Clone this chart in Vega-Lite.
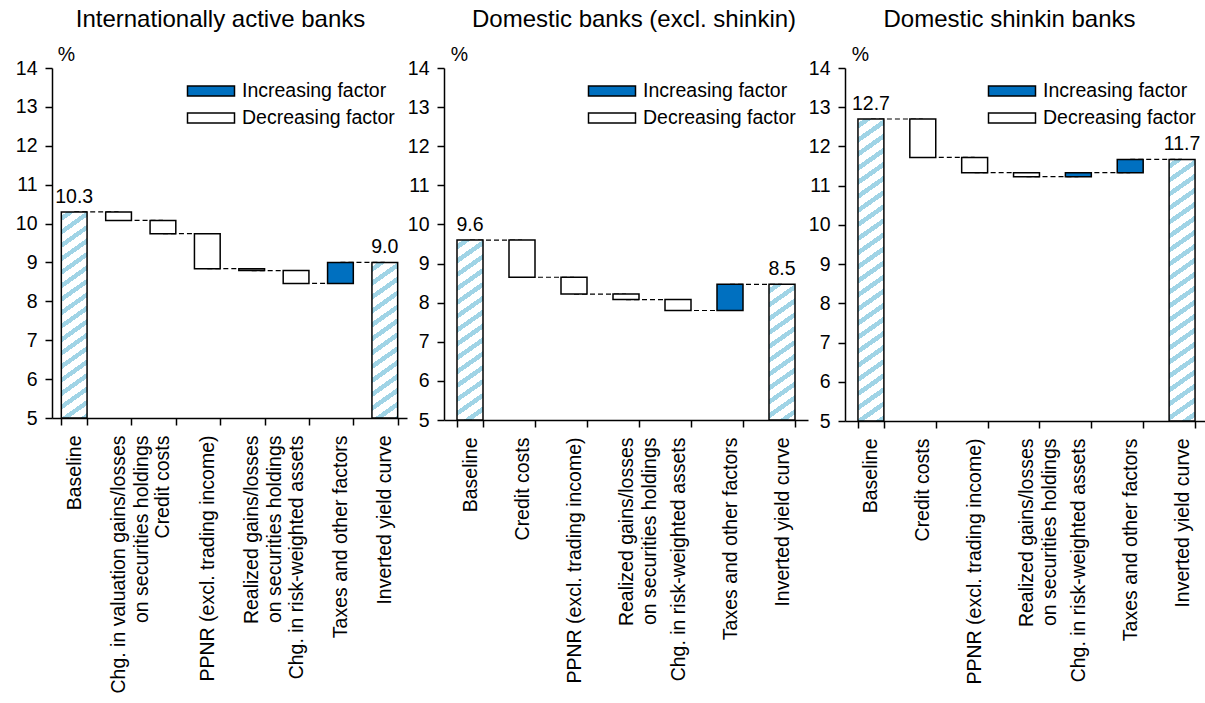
{
"$schema": "https://vega.github.io/schema/vega-lite/v6.json",
"padding": {"left": 15, "top": 8, "right": 0, "bottom": 0},
"background": "white",
"datasets": {
"p1": [
{"cat":"Baseline","start":5,"end":10.3,"type":"Total","next":"Chg. in valuation gains/losses on securities holdings"},
{"cat":"Chg. in valuation gains/losses on securities holdings","start":10.3,"end":10.08,"type":"Decreasing factor","next":"Credit costs"},
{"cat":"Credit costs","start":10.08,"end":9.74,"type":"Decreasing factor","next":"PPNR (excl. trading income)"},
{"cat":"PPNR (excl. trading income)","start":9.74,"end":8.84,"type":"Decreasing factor","next":"Realized gains/losses on securities holdings"},
{"cat":"Realized gains/losses on securities holdings","start":8.84,"end":8.79,"type":"Decreasing factor","next":"Chg. in risk-weighted assets"},
{"cat":"Chg. in risk-weighted assets","start":8.79,"end":8.46,"type":"Decreasing factor","next":"Taxes and other factors"},
{"cat":"Taxes and other factors","start":8.46,"end":9.0,"type":"Increasing factor","next":"Inverted yield curve"},
{"cat":"Inverted yield curve","start":5,"end":9.0,"type":"Total"}
],
"p2": [
{"cat":"Baseline","start":5,"end":9.6,"type":"Total","next":"Credit costs"},
{"cat":"Credit costs","start":9.6,"end":8.65,"type":"Decreasing factor","next":"PPNR (excl. trading income)"},
{"cat":"PPNR (excl. trading income)","start":8.65,"end":8.22,"type":"Decreasing factor","next":"Realized gains/losses on securities holdings"},
{"cat":"Realized gains/losses on securities holdings","start":8.22,"end":8.08,"type":"Decreasing factor","next":"Chg. in risk-weighted assets"},
{"cat":"Chg. in risk-weighted assets","start":8.08,"end":7.8,"type":"Decreasing factor","next":"Taxes and other factors"},
{"cat":"Taxes and other factors","start":7.8,"end":8.47,"type":"Increasing factor","next":"Inverted yield curve"},
{"cat":"Inverted yield curve","start":5,"end":8.47,"type":"Total"}
],
"p3": [
{"cat":"Baseline","start":5,"end":12.7,"type":"Total","next":"Credit costs"},
{"cat":"Credit costs","start":12.7,"end":11.72,"type":"Decreasing factor","next":"PPNR (excl. trading income)"},
{"cat":"PPNR (excl. trading income)","start":11.72,"end":11.33,"type":"Decreasing factor","next":"Realized gains/losses on securities holdings"},
{"cat":"Realized gains/losses on securities holdings","start":11.33,"end":11.23,"type":"Decreasing factor","next":"Chg. in risk-weighted assets"},
{"cat":"Chg. in risk-weighted assets","start":11.23,"end":11.33,"type":"Increasing factor","next":"Taxes and other factors"},
{"cat":"Taxes and other factors","start":11.33,"end":11.67,"type":"Increasing factor","next":"Inverted yield curve"},
{"cat":"Inverted yield curve","start":5,"end":11.67,"type":"Total"}
]
},
"spacing": 0,
"hconcat": [
{
"width": 355, "height": 350,
"title": {"text": "Internationally active banks", "dx": -9, "offset": 12},
"data": {"name": "p1"},
"encoding": {
"x": {"field": "cat", "type": "nominal", "sort": null,
 "scale": {"domain": ["Baseline","Chg. in valuation gains/losses on securities holdings","Credit costs","PPNR (excl. trading income)","Realized gains/losses on securities holdings","Chg. in risk-weighted assets","Taxes and other factors","Inverted yield curve"], "paddingInner": 0.42, "paddingOuter": 0.21},
 "axis": {"title": null, "tickBand": "extent", "labelAngle": -90, "labelAlign": "right", "labelBaseline": "middle", "labelPadding": 10, "labelLimit": 400, "labelLineHeight": 23,
  "labelExpr": "datum.value == 'Chg. in valuation gains/losses on securities holdings' ? ['Chg. in valuation gains/losses', 'on securities holdings'] : datum.value == 'Realized gains/losses on securities holdings' ? ['Realized gains/losses', 'on securities holdings'] : datum.label"}},
"y": {"field": "end", "type": "quantitative", "scale": {"domain": [5, 14], "nice": false, "zero": false},
 "axis": {"title": "%", "values": [5,6,7,8,9,10,11,12,13,14], "labelPadding": 8, "titleAngle": 0, "titleX": 14, "titleY": -8, "titleAlign": "center", "titleBaseline": "alphabetic"}}
},
"layer": [
{"transform": [{"filter": "isValid(datum.next)"}], "mark": {"type": "rule", "color": "#000", "strokeWidth": 1.2, "strokeDash": [5, 3]}, "encoding": {"x2": {"field": "next"}}},
{"transform": [{"filter": "datum.cat == 'Baseline'"}], "mark": {"type": "bar", "stroke": "#000", "strokeWidth": 1.5,
 "fill": {"gradient": "linear", "x1": 0, "y1": 0, "x2": 0.0958, "y2": 1.0802, "stops": [
{"offset":0,"color":"#ffffff"},
{"offset":0.018,"color":"#ffffff"},{"offset":0.018,"color":"#a0d4e6"},{"offset":0.042,"color":"#a0d4e6"},{"offset":0.042,"color":"#ffffff"},
{"offset":0.078,"color":"#ffffff"},{"offset":0.078,"color":"#a0d4e6"},{"offset":0.102,"color":"#a0d4e6"},{"offset":0.102,"color":"#ffffff"},
{"offset":0.138,"color":"#ffffff"},{"offset":0.138,"color":"#a0d4e6"},{"offset":0.162,"color":"#a0d4e6"},{"offset":0.162,"color":"#ffffff"},
{"offset":0.198,"color":"#ffffff"},{"offset":0.198,"color":"#a0d4e6"},{"offset":0.222,"color":"#a0d4e6"},{"offset":0.222,"color":"#ffffff"},
{"offset":0.258,"color":"#ffffff"},{"offset":0.258,"color":"#a0d4e6"},{"offset":0.282,"color":"#a0d4e6"},{"offset":0.282,"color":"#ffffff"},
{"offset":0.318,"color":"#ffffff"},{"offset":0.318,"color":"#a0d4e6"},{"offset":0.342,"color":"#a0d4e6"},{"offset":0.342,"color":"#ffffff"},
{"offset":0.378,"color":"#ffffff"},{"offset":0.378,"color":"#a0d4e6"},{"offset":0.402,"color":"#a0d4e6"},{"offset":0.402,"color":"#ffffff"},
{"offset":0.438,"color":"#ffffff"},{"offset":0.438,"color":"#a0d4e6"},{"offset":0.462,"color":"#a0d4e6"},{"offset":0.462,"color":"#ffffff"},
{"offset":0.498,"color":"#ffffff"},{"offset":0.498,"color":"#a0d4e6"},{"offset":0.522,"color":"#a0d4e6"},{"offset":0.522,"color":"#ffffff"},
{"offset":0.558,"color":"#ffffff"},{"offset":0.558,"color":"#a0d4e6"},{"offset":0.582,"color":"#a0d4e6"},{"offset":0.582,"color":"#ffffff"},
{"offset":0.618,"color":"#ffffff"},{"offset":0.618,"color":"#a0d4e6"},{"offset":0.642,"color":"#a0d4e6"},{"offset":0.642,"color":"#ffffff"},
{"offset":0.678,"color":"#ffffff"},{"offset":0.678,"color":"#a0d4e6"},{"offset":0.702,"color":"#a0d4e6"},{"offset":0.702,"color":"#ffffff"},
{"offset":0.738,"color":"#ffffff"},{"offset":0.738,"color":"#a0d4e6"},{"offset":0.762,"color":"#a0d4e6"},{"offset":0.762,"color":"#ffffff"},
{"offset":0.798,"color":"#ffffff"},{"offset":0.798,"color":"#a0d4e6"},{"offset":0.822,"color":"#a0d4e6"},{"offset":0.822,"color":"#ffffff"},
{"offset":0.858,"color":"#ffffff"},{"offset":0.858,"color":"#a0d4e6"},{"offset":0.882,"color":"#a0d4e6"},{"offset":0.882,"color":"#ffffff"},
{"offset":0.918,"color":"#ffffff"},{"offset":0.918,"color":"#a0d4e6"},{"offset":0.942,"color":"#a0d4e6"},{"offset":0.942,"color":"#ffffff"},
{"offset":0.978,"color":"#ffffff"},{"offset":0.978,"color":"#a0d4e6"},{"offset":1,"color":"#a0d4e6"}
]}}, "encoding": {"y2": {"field": "start"}}},
{"transform": [{"filter": "datum.cat == 'Inverted yield curve'"}], "mark": {"type": "bar", "stroke": "#000", "strokeWidth": 1.5,
 "fill": {"gradient": "linear", "x1": 0, "y1": 0, "x2": 0.1294, "y2": 1.1024, "stops": [
{"offset":0,"color":"#ffffff"},
{"offset":0.024,"color":"#ffffff"},{"offset":0.024,"color":"#a0d4e6"},{"offset":0.056,"color":"#a0d4e6"},{"offset":0.056,"color":"#ffffff"},
{"offset":0.104,"color":"#ffffff"},{"offset":0.104,"color":"#a0d4e6"},{"offset":0.136,"color":"#a0d4e6"},{"offset":0.136,"color":"#ffffff"},
{"offset":0.184,"color":"#ffffff"},{"offset":0.184,"color":"#a0d4e6"},{"offset":0.216,"color":"#a0d4e6"},{"offset":0.216,"color":"#ffffff"},
{"offset":0.264,"color":"#ffffff"},{"offset":0.264,"color":"#a0d4e6"},{"offset":0.296,"color":"#a0d4e6"},{"offset":0.296,"color":"#ffffff"},
{"offset":0.344,"color":"#ffffff"},{"offset":0.344,"color":"#a0d4e6"},{"offset":0.376,"color":"#a0d4e6"},{"offset":0.376,"color":"#ffffff"},
{"offset":0.424,"color":"#ffffff"},{"offset":0.424,"color":"#a0d4e6"},{"offset":0.456,"color":"#a0d4e6"},{"offset":0.456,"color":"#ffffff"},
{"offset":0.504,"color":"#ffffff"},{"offset":0.504,"color":"#a0d4e6"},{"offset":0.536,"color":"#a0d4e6"},{"offset":0.536,"color":"#ffffff"},
{"offset":0.584,"color":"#ffffff"},{"offset":0.584,"color":"#a0d4e6"},{"offset":0.616,"color":"#a0d4e6"},{"offset":0.616,"color":"#ffffff"},
{"offset":0.664,"color":"#ffffff"},{"offset":0.664,"color":"#a0d4e6"},{"offset":0.696,"color":"#a0d4e6"},{"offset":0.696,"color":"#ffffff"},
{"offset":0.744,"color":"#ffffff"},{"offset":0.744,"color":"#a0d4e6"},{"offset":0.776,"color":"#a0d4e6"},{"offset":0.776,"color":"#ffffff"},
{"offset":0.824,"color":"#ffffff"},{"offset":0.824,"color":"#a0d4e6"},{"offset":0.856,"color":"#a0d4e6"},{"offset":0.856,"color":"#ffffff"},
{"offset":0.904,"color":"#ffffff"},{"offset":0.904,"color":"#a0d4e6"},{"offset":0.936,"color":"#a0d4e6"},{"offset":0.936,"color":"#ffffff"},
{"offset":0.984,"color":"#ffffff"},{"offset":0.984,"color":"#a0d4e6"},{"offset":1,"color":"#a0d4e6"}
]}}, "encoding": {"y2": {"field": "start"}}},
{"transform": [{"filter": "datum.type != 'Total'"}], "mark": {"type": "bar", "stroke": "#000", "strokeWidth": 1.5}, "encoding": {"y2": {"field": "start"},
 "fill": {"field": "type", "type": "nominal", "scale": {"domain": ["Increasing factor", "Decreasing factor"], "range": ["#0070c0", "#ffffff"]}, "legend": {"title": null}}}},
{"transform": [{"filter": "datum.type == 'Total'"}], "mark": {"type": "text", "baseline": "bottom", "dy": -5, "fontSize": 19.5, "color": "#000"}, "encoding": {"text": {"field": "end", "type": "quantitative", "format": ".1f"}}}
]
},
{
"width": 364, "height": 352,
"title": {"text": "Domestic banks (excl. shinkin)", "dx": 8, "offset": 12},
"data": {"name": "p2"},
"encoding": {
"x": {"field": "cat", "type": "nominal", "sort": null,
 "scale": {"domain": ["Baseline","Credit costs","PPNR (excl. trading income)","Realized gains/losses on securities holdings","Chg. in risk-weighted assets","Taxes and other factors","Inverted yield curve"], "paddingInner": 0.5, "paddingOuter": 0.25},
 "axis": {"title": null, "tickBand": "extent", "labelAngle": -90, "labelAlign": "right", "labelBaseline": "middle", "labelPadding": 10, "labelLimit": 400, "labelLineHeight": 23,
  "labelExpr": "datum.value == 'Realized gains/losses on securities holdings' ? ['Realized gains/losses', 'on securities holdings'] : datum.label"}},
"y": {"field": "end", "type": "quantitative", "scale": {"domain": [5, 14], "nice": false, "zero": false},
 "axis": {"title": "%", "values": [5,6,7,8,9,10,11,12,13,14], "labelPadding": 8, "titleAngle": 0, "titleX": 15, "titleY": -8, "titleAlign": "center", "titleBaseline": "alphabetic"}}
},
"layer": [
{"transform": [{"filter": "isValid(datum.next)"}], "mark": {"type": "rule", "color": "#000", "strokeWidth": 1.2, "strokeDash": [5, 3]}, "encoding": {"x2": {"field": "next"}}},
{"transform": [{"filter": "datum.cat == 'Baseline'"}], "mark": {"type": "bar", "stroke": "#000", "strokeWidth": 1.5,
 "fill": {"gradient": "linear", "x1": 0, "y1": 0, "x2": 0.1103, "y2": 1.09, "stops": [
{"offset":0,"color":"#ffffff"},
{"offset":0.021,"color":"#ffffff"},{"offset":0.021,"color":"#a0d4e6"},{"offset":0.049,"color":"#a0d4e6"},{"offset":0.049,"color":"#ffffff"},
{"offset":0.091,"color":"#ffffff"},{"offset":0.091,"color":"#a0d4e6"},{"offset":0.119,"color":"#a0d4e6"},{"offset":0.119,"color":"#ffffff"},
{"offset":0.161,"color":"#ffffff"},{"offset":0.161,"color":"#a0d4e6"},{"offset":0.189,"color":"#a0d4e6"},{"offset":0.189,"color":"#ffffff"},
{"offset":0.231,"color":"#ffffff"},{"offset":0.231,"color":"#a0d4e6"},{"offset":0.259,"color":"#a0d4e6"},{"offset":0.259,"color":"#ffffff"},
{"offset":0.301,"color":"#ffffff"},{"offset":0.301,"color":"#a0d4e6"},{"offset":0.329,"color":"#a0d4e6"},{"offset":0.329,"color":"#ffffff"},
{"offset":0.371,"color":"#ffffff"},{"offset":0.371,"color":"#a0d4e6"},{"offset":0.399,"color":"#a0d4e6"},{"offset":0.399,"color":"#ffffff"},
{"offset":0.441,"color":"#ffffff"},{"offset":0.441,"color":"#a0d4e6"},{"offset":0.469,"color":"#a0d4e6"},{"offset":0.469,"color":"#ffffff"},
{"offset":0.511,"color":"#ffffff"},{"offset":0.511,"color":"#a0d4e6"},{"offset":0.539,"color":"#a0d4e6"},{"offset":0.539,"color":"#ffffff"},
{"offset":0.581,"color":"#ffffff"},{"offset":0.581,"color":"#a0d4e6"},{"offset":0.609,"color":"#a0d4e6"},{"offset":0.609,"color":"#ffffff"},
{"offset":0.651,"color":"#ffffff"},{"offset":0.651,"color":"#a0d4e6"},{"offset":0.679,"color":"#a0d4e6"},{"offset":0.679,"color":"#ffffff"},
{"offset":0.721,"color":"#ffffff"},{"offset":0.721,"color":"#a0d4e6"},{"offset":0.749,"color":"#a0d4e6"},{"offset":0.749,"color":"#ffffff"},
{"offset":0.791,"color":"#ffffff"},{"offset":0.791,"color":"#a0d4e6"},{"offset":0.819,"color":"#a0d4e6"},{"offset":0.819,"color":"#ffffff"},
{"offset":0.861,"color":"#ffffff"},{"offset":0.861,"color":"#a0d4e6"},{"offset":0.889,"color":"#a0d4e6"},{"offset":0.889,"color":"#ffffff"},
{"offset":0.931,"color":"#ffffff"},{"offset":0.931,"color":"#a0d4e6"},{"offset":0.959,"color":"#a0d4e6"},{"offset":0.959,"color":"#ffffff"},
{"offset":1,"color":"#ffffff"}
]}}, "encoding": {"y2": {"field": "start"}}},
{"transform": [{"filter": "datum.cat == 'Inverted yield curve'"}], "mark": {"type": "bar", "stroke": "#000", "strokeWidth": 1.5,
 "fill": {"gradient": "linear", "x1": 0, "y1": 0, "x2": 0.1494, "y2": 1.1141, "stops": [
{"offset":0,"color":"#ffffff"},
{"offset":0.027,"color":"#ffffff"},{"offset":0.027,"color":"#a0d4e6"},{"offset":0.063,"color":"#a0d4e6"},{"offset":0.063,"color":"#ffffff"},
{"offset":0.117,"color":"#ffffff"},{"offset":0.117,"color":"#a0d4e6"},{"offset":0.153,"color":"#a0d4e6"},{"offset":0.153,"color":"#ffffff"},
{"offset":0.207,"color":"#ffffff"},{"offset":0.207,"color":"#a0d4e6"},{"offset":0.243,"color":"#a0d4e6"},{"offset":0.243,"color":"#ffffff"},
{"offset":0.297,"color":"#ffffff"},{"offset":0.297,"color":"#a0d4e6"},{"offset":0.333,"color":"#a0d4e6"},{"offset":0.333,"color":"#ffffff"},
{"offset":0.387,"color":"#ffffff"},{"offset":0.387,"color":"#a0d4e6"},{"offset":0.423,"color":"#a0d4e6"},{"offset":0.423,"color":"#ffffff"},
{"offset":0.477,"color":"#ffffff"},{"offset":0.477,"color":"#a0d4e6"},{"offset":0.513,"color":"#a0d4e6"},{"offset":0.513,"color":"#ffffff"},
{"offset":0.567,"color":"#ffffff"},{"offset":0.567,"color":"#a0d4e6"},{"offset":0.603,"color":"#a0d4e6"},{"offset":0.603,"color":"#ffffff"},
{"offset":0.657,"color":"#ffffff"},{"offset":0.657,"color":"#a0d4e6"},{"offset":0.693,"color":"#a0d4e6"},{"offset":0.693,"color":"#ffffff"},
{"offset":0.747,"color":"#ffffff"},{"offset":0.747,"color":"#a0d4e6"},{"offset":0.783,"color":"#a0d4e6"},{"offset":0.783,"color":"#ffffff"},
{"offset":0.837,"color":"#ffffff"},{"offset":0.837,"color":"#a0d4e6"},{"offset":0.873,"color":"#a0d4e6"},{"offset":0.873,"color":"#ffffff"},
{"offset":0.927,"color":"#ffffff"},{"offset":0.927,"color":"#a0d4e6"},{"offset":0.963,"color":"#a0d4e6"},{"offset":0.963,"color":"#ffffff"},
{"offset":1,"color":"#ffffff"}
]}}, "encoding": {"y2": {"field": "start"}}},
{"transform": [{"filter": "datum.type != 'Total'"}], "mark": {"type": "bar", "stroke": "#000", "strokeWidth": 1.5}, "encoding": {"y2": {"field": "start"},
 "fill": {"field": "type", "type": "nominal", "scale": {"domain": ["Increasing factor", "Decreasing factor"], "range": ["#0070c0", "#ffffff"]}, "legend": {"title": null}}}},
{"transform": [{"filter": "datum.type == 'Total'"}], "mark": {"type": "text", "baseline": "bottom", "dy": -5, "fontSize": 19.5, "color": "#000"}, "encoding": {"text": {"field": "end", "type": "quantitative", "format": ".1f"}}}
]
},
{
"width": 363, "height": 353,
"title": {"text": "Domestic shinkin banks", "dx": -17, "offset": 12},
"data": {"name": "p3"},
"encoding": {
"x": {"field": "cat", "type": "nominal", "sort": null,
 "scale": {"domain": ["Baseline","Credit costs","PPNR (excl. trading income)","Realized gains/losses on securities holdings","Chg. in risk-weighted assets","Taxes and other factors","Inverted yield curve"], "paddingInner": 0.5, "paddingOuter": 0.25},
 "axis": {"title": null, "tickBand": "extent", "labelAngle": -90, "labelAlign": "right", "labelBaseline": "middle", "labelPadding": 10, "labelLimit": 400, "labelLineHeight": 23,
  "labelExpr": "datum.value == 'Realized gains/losses on securities holdings' ? ['Realized gains/losses', 'on securities holdings'] : datum.label"}},
"y": {"field": "end", "type": "quantitative", "scale": {"domain": [5, 14], "nice": false, "zero": false},
 "axis": {"title": "%", "values": [5,6,7,8,9,10,11,12,13,14], "labelPadding": 8, "titleAngle": 0, "titleX": 15, "titleY": -8, "titleAlign": "center", "titleBaseline": "alphabetic"}}
},
"layer": [
{"transform": [{"filter": "isValid(datum.next)"}], "mark": {"type": "rule", "color": "#000", "strokeWidth": 1.2, "strokeDash": [5, 3]}, "encoding": {"x2": {"field": "next"}}},
{"transform": [{"filter": "datum.cat == 'Baseline'"}], "mark": {"type": "bar", "stroke": "#000", "strokeWidth": 1.5,
 "fill": {"gradient": "linear", "x1": 0, "y1": 0, "x2": 0.0637, "y2": 1.0564, "stops": [
{"offset":0,"color":"#ffffff"},
{"offset":0.0132,"color":"#ffffff"},{"offset":0.0132,"color":"#a0d4e6"},{"offset":0.0308,"color":"#a0d4e6"},{"offset":0.0308,"color":"#ffffff"},
{"offset":0.0572,"color":"#ffffff"},{"offset":0.0572,"color":"#a0d4e6"},{"offset":0.0748,"color":"#a0d4e6"},{"offset":0.0748,"color":"#ffffff"},
{"offset":0.1012,"color":"#ffffff"},{"offset":0.1012,"color":"#a0d4e6"},{"offset":0.1188,"color":"#a0d4e6"},{"offset":0.1188,"color":"#ffffff"},
{"offset":0.1452,"color":"#ffffff"},{"offset":0.1452,"color":"#a0d4e6"},{"offset":0.1628,"color":"#a0d4e6"},{"offset":0.1628,"color":"#ffffff"},
{"offset":0.1892,"color":"#ffffff"},{"offset":0.1892,"color":"#a0d4e6"},{"offset":0.2068,"color":"#a0d4e6"},{"offset":0.2068,"color":"#ffffff"},
{"offset":0.2332,"color":"#ffffff"},{"offset":0.2332,"color":"#a0d4e6"},{"offset":0.2508,"color":"#a0d4e6"},{"offset":0.2508,"color":"#ffffff"},
{"offset":0.2772,"color":"#ffffff"},{"offset":0.2772,"color":"#a0d4e6"},{"offset":0.2948,"color":"#a0d4e6"},{"offset":0.2948,"color":"#ffffff"},
{"offset":0.3212,"color":"#ffffff"},{"offset":0.3212,"color":"#a0d4e6"},{"offset":0.3388,"color":"#a0d4e6"},{"offset":0.3388,"color":"#ffffff"},
{"offset":0.3652,"color":"#ffffff"},{"offset":0.3652,"color":"#a0d4e6"},{"offset":0.3828,"color":"#a0d4e6"},{"offset":0.3828,"color":"#ffffff"},
{"offset":0.4092,"color":"#ffffff"},{"offset":0.4092,"color":"#a0d4e6"},{"offset":0.4268,"color":"#a0d4e6"},{"offset":0.4268,"color":"#ffffff"},
{"offset":0.4532,"color":"#ffffff"},{"offset":0.4532,"color":"#a0d4e6"},{"offset":0.4708,"color":"#a0d4e6"},{"offset":0.4708,"color":"#ffffff"},
{"offset":0.4972,"color":"#ffffff"},{"offset":0.4972,"color":"#a0d4e6"},{"offset":0.5148,"color":"#a0d4e6"},{"offset":0.5148,"color":"#ffffff"},
{"offset":0.5412,"color":"#ffffff"},{"offset":0.5412,"color":"#a0d4e6"},{"offset":0.5588,"color":"#a0d4e6"},{"offset":0.5588,"color":"#ffffff"},
{"offset":0.5852,"color":"#ffffff"},{"offset":0.5852,"color":"#a0d4e6"},{"offset":0.6028,"color":"#a0d4e6"},{"offset":0.6028,"color":"#ffffff"},
{"offset":0.6292,"color":"#ffffff"},{"offset":0.6292,"color":"#a0d4e6"},{"offset":0.6468,"color":"#a0d4e6"},{"offset":0.6468,"color":"#ffffff"},
{"offset":0.6732,"color":"#ffffff"},{"offset":0.6732,"color":"#a0d4e6"},{"offset":0.6908,"color":"#a0d4e6"},{"offset":0.6908,"color":"#ffffff"},
{"offset":0.7172,"color":"#ffffff"},{"offset":0.7172,"color":"#a0d4e6"},{"offset":0.7348,"color":"#a0d4e6"},{"offset":0.7348,"color":"#ffffff"},
{"offset":0.7612,"color":"#ffffff"},{"offset":0.7612,"color":"#a0d4e6"},{"offset":0.7788,"color":"#a0d4e6"},{"offset":0.7788,"color":"#ffffff"},
{"offset":0.8052,"color":"#ffffff"},{"offset":0.8052,"color":"#a0d4e6"},{"offset":0.8228,"color":"#a0d4e6"},{"offset":0.8228,"color":"#ffffff"},
{"offset":0.8492,"color":"#ffffff"},{"offset":0.8492,"color":"#a0d4e6"},{"offset":0.8668,"color":"#a0d4e6"},{"offset":0.8668,"color":"#ffffff"},
{"offset":0.8932,"color":"#ffffff"},{"offset":0.8932,"color":"#a0d4e6"},{"offset":0.9108,"color":"#a0d4e6"},{"offset":0.9108,"color":"#ffffff"},
{"offset":0.9372,"color":"#ffffff"},{"offset":0.9372,"color":"#a0d4e6"},{"offset":0.9548,"color":"#a0d4e6"},{"offset":0.9548,"color":"#ffffff"},
{"offset":0.9812,"color":"#ffffff"},{"offset":0.9812,"color":"#a0d4e6"},{"offset":0.9988,"color":"#a0d4e6"},{"offset":0.9988,"color":"#ffffff"},
{"offset":1,"color":"#ffffff"}
]}}, "encoding": {"y2": {"field": "start"}}},
{"transform": [{"filter": "datum.cat == 'Inverted yield curve'"}], "mark": {"type": "bar", "stroke": "#000", "strokeWidth": 1.5,
 "fill": {"gradient": "linear", "x1": 0, "y1": 0, "x2": 0.0739, "y2": 1.0642, "stops": [
{"offset":0,"color":"#ffffff"},
{"offset":0.015,"color":"#ffffff"},{"offset":0.015,"color":"#a0d4e6"},{"offset":0.035,"color":"#a0d4e6"},{"offset":0.035,"color":"#ffffff"},
{"offset":0.065,"color":"#ffffff"},{"offset":0.065,"color":"#a0d4e6"},{"offset":0.085,"color":"#a0d4e6"},{"offset":0.085,"color":"#ffffff"},
{"offset":0.115,"color":"#ffffff"},{"offset":0.115,"color":"#a0d4e6"},{"offset":0.135,"color":"#a0d4e6"},{"offset":0.135,"color":"#ffffff"},
{"offset":0.165,"color":"#ffffff"},{"offset":0.165,"color":"#a0d4e6"},{"offset":0.185,"color":"#a0d4e6"},{"offset":0.185,"color":"#ffffff"},
{"offset":0.215,"color":"#ffffff"},{"offset":0.215,"color":"#a0d4e6"},{"offset":0.235,"color":"#a0d4e6"},{"offset":0.235,"color":"#ffffff"},
{"offset":0.265,"color":"#ffffff"},{"offset":0.265,"color":"#a0d4e6"},{"offset":0.285,"color":"#a0d4e6"},{"offset":0.285,"color":"#ffffff"},
{"offset":0.315,"color":"#ffffff"},{"offset":0.315,"color":"#a0d4e6"},{"offset":0.335,"color":"#a0d4e6"},{"offset":0.335,"color":"#ffffff"},
{"offset":0.365,"color":"#ffffff"},{"offset":0.365,"color":"#a0d4e6"},{"offset":0.385,"color":"#a0d4e6"},{"offset":0.385,"color":"#ffffff"},
{"offset":0.415,"color":"#ffffff"},{"offset":0.415,"color":"#a0d4e6"},{"offset":0.435,"color":"#a0d4e6"},{"offset":0.435,"color":"#ffffff"},
{"offset":0.465,"color":"#ffffff"},{"offset":0.465,"color":"#a0d4e6"},{"offset":0.485,"color":"#a0d4e6"},{"offset":0.485,"color":"#ffffff"},
{"offset":0.515,"color":"#ffffff"},{"offset":0.515,"color":"#a0d4e6"},{"offset":0.535,"color":"#a0d4e6"},{"offset":0.535,"color":"#ffffff"},
{"offset":0.565,"color":"#ffffff"},{"offset":0.565,"color":"#a0d4e6"},{"offset":0.585,"color":"#a0d4e6"},{"offset":0.585,"color":"#ffffff"},
{"offset":0.615,"color":"#ffffff"},{"offset":0.615,"color":"#a0d4e6"},{"offset":0.635,"color":"#a0d4e6"},{"offset":0.635,"color":"#ffffff"},
{"offset":0.665,"color":"#ffffff"},{"offset":0.665,"color":"#a0d4e6"},{"offset":0.685,"color":"#a0d4e6"},{"offset":0.685,"color":"#ffffff"},
{"offset":0.715,"color":"#ffffff"},{"offset":0.715,"color":"#a0d4e6"},{"offset":0.735,"color":"#a0d4e6"},{"offset":0.735,"color":"#ffffff"},
{"offset":0.765,"color":"#ffffff"},{"offset":0.765,"color":"#a0d4e6"},{"offset":0.785,"color":"#a0d4e6"},{"offset":0.785,"color":"#ffffff"},
{"offset":0.815,"color":"#ffffff"},{"offset":0.815,"color":"#a0d4e6"},{"offset":0.835,"color":"#a0d4e6"},{"offset":0.835,"color":"#ffffff"},
{"offset":0.865,"color":"#ffffff"},{"offset":0.865,"color":"#a0d4e6"},{"offset":0.885,"color":"#a0d4e6"},{"offset":0.885,"color":"#ffffff"},
{"offset":0.915,"color":"#ffffff"},{"offset":0.915,"color":"#a0d4e6"},{"offset":0.935,"color":"#a0d4e6"},{"offset":0.935,"color":"#ffffff"},
{"offset":0.965,"color":"#ffffff"},{"offset":0.965,"color":"#a0d4e6"},{"offset":0.985,"color":"#a0d4e6"},{"offset":0.985,"color":"#ffffff"},
{"offset":1,"color":"#ffffff"}
]}}, "encoding": {"y2": {"field": "start"}}},
{"transform": [{"filter": "datum.type != 'Total'"}], "mark": {"type": "bar", "stroke": "#000", "strokeWidth": 1.5}, "encoding": {"y2": {"field": "start"},
 "fill": {"field": "type", "type": "nominal", "scale": {"domain": ["Increasing factor", "Decreasing factor"], "range": ["#0070c0", "#ffffff"]}, "legend": {"title": null}}}},
{"transform": [{"filter": "datum.type == 'Total'"}], "mark": {"type": "text", "baseline": "bottom", "dy": -5, "fontSize": 19.5, "color": "#000"}, "encoding": {"text": {"field": "end", "type": "quantitative", "format": ".1f"}}}
]
}
],
"resolve": {"scale": {"fill": "independent", "x": "independent", "y": "independent"}, "legend": {"fill": "independent"}},
"config": {
"font": "Liberation Sans",
"view": {"stroke": null},
"axis": {"domainColor": "#000", "domainWidth": 1.5, "tickColor": "#000", "tickWidth": 1.5, "tickSize": 7, "labelColor": "#000", "labelFontSize": 19.5, "labelFont": "Liberation Sans", "grid": false, "titleColor": "#000", "titleFont": "Liberation Sans", "titleFontWeight": "normal", "titleFontSize": 19.5, "labelOverlap": false},
"legend": {"orient": "top-right", "offset": 12, "labelFontSize": 19.5, "labelFont": "Liberation Sans", "labelColor": "#000", "symbolType": "M-2.35,-0.5H2.35V0.5H-2.35Z", "symbolSize": 400, "symbolStrokeColor": "#000", "symbolStrokeWidth": 1.5, "symbolOpacity": 1, "labelOffset": 20, "rowPadding": 6},
"title": {"font": "Liberation Sans", "fontSize": 24, "fontWeight": "normal", "color": "#000", "anchor": "middle"}
}
}
